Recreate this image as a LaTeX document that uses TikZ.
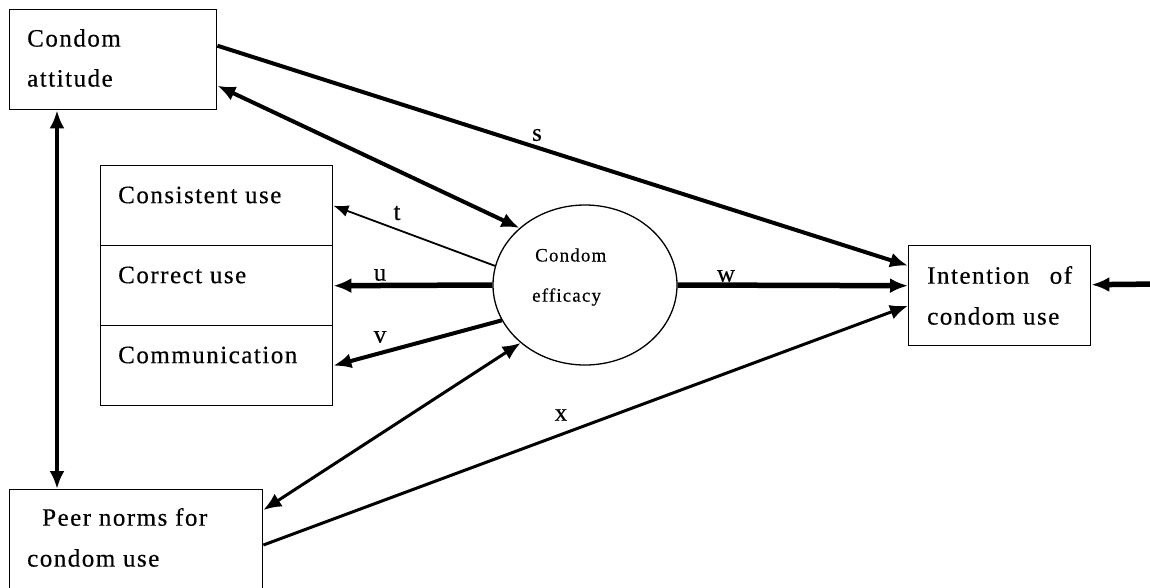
\documentclass[tikz,border=0pt]{standalone}
\usepackage{fontspec}
\setmainfont{Liberation Serif}[LetterSpace=6.0, FakeBold=0.4]
\usetikzlibrary{arrows.meta,shapes.geometric,calc}

\begin{document}
\begin{tikzpicture}[x=1pt,y=-1pt,
  box/.style={draw, line width=1.4pt, inner sep=0pt, anchor=north west},
  txt/.style={font=\fontsize{25}{40}\selectfont, inner sep=0pt, anchor=west},
  lbl/.style={font=\fontsize{25}{30}\selectfont, inner sep=0pt},
  onehead/.style={-{Latex[length=18pt,width=15pt]}},
  twoheads/.style={{Latex[length=18pt,width=15pt]}-{Latex[length=18pt,width=15pt]}},
  smallhead/.style={-{Latex[length=15pt,width=12pt]}},
  thinline/.style={line width=1.8pt},
  midline/.style={line width=3pt},
  heavyline/.style={line width=4pt},
  boldline/.style={line width=5.5pt}]
\useasboundingbox (0,0) rectangle (1150,587);
\fill[white] (0,0) rectangle (1150,587);

% boxes
\node[box, minimum width=207pt, minimum height=100pt] (att) at (9,9) {};
\node[txt] (attT) at (27,38) {Condom};
\node[txt] (attT2) at (27,78) {attitude};

\node[box, minimum width=232pt, minimum height=80pt] (cons) at (100,165) {};
\node[box, minimum width=232pt, minimum height=80pt] (corr) at (100,245) {};
\node[box, minimum width=232pt, minimum height=80pt] (comm) at (100,325) {};
\node[txt] (consT) at (118,195) {Consistent use};
\node[txt] (corrT) at (118,275) {Correct use};
\node[txt] (commT) at (118,355) {Communication};

\node[box, minimum width=253pt, minimum height=130pt] (peer) at (9,489) {};
\node[txt] (peerT) at (42,517) {Peer norms for};
\node[txt] (peerT2) at (27,558) {condom use};

\node[box, minimum width=182pt, minimum height=100pt] (int) at (908,245) {};
\node[txt] (intT) at (927,275) {Intention\hspace{0.5em} of};
\node[txt] (intT2) at (927,316) {condom use};

% latent variable
\node[ellipse, draw, line width=1.3pt, minimum width=184pt, minimum height=160pt, inner sep=0pt] (eff) at (585,285) {};
\node[txt, font=\fontsize{19}{42}\selectfont] (effT) at (535,255) {Condom};
\node[txt, font=\fontsize{19}{42}\selectfont] (effT2) at (532,297) {efficacy};

% paths
\draw[onehead, heavyline] ([yshift=14pt]att.east) -- ([yshift=30pt]int.west);
\draw[twoheads, heavyline] ([yshift=-26pt]att.east) -- (eff.139);
\draw[twoheads, heavyline] ([xshift=48pt]att.south west) -- ([xshift=48pt]peer.north west);
\draw[smallhead, thinline] (eff.168) -- (cons.east);
\draw[onehead, boldline] (eff.west) -- (corr.east);
\draw[onehead, heavyline] (eff.203) -- (comm.east);
\draw[twoheads, midline] ([yshift=-21pt]peer.north east) -- (eff.222);
\draw[onehead, midline] ([yshift=-56pt]peer.north east) -- ([yshift=-10pt]int.west);
\draw[onehead, boldline] (eff.east) -- ([yshift=10pt]int.west);
\coordinate (rin) at (1160,284);
\draw[onehead, boldline] (rin) -- ([yshift=11pt]int.east);

% path labels
\node[lbl] (ls) at (537,135) {s};
\node[lbl] (lt) at (397,213) {t};
\node[lbl] (lu) at (380,275) {u};
\node[lbl] (lv) at (380,337) {v};
\node[lbl] (lw) at (726,276) {w};
\node[lbl] (lx) at (561,415) {x};
\end{tikzpicture}
\end{document}
